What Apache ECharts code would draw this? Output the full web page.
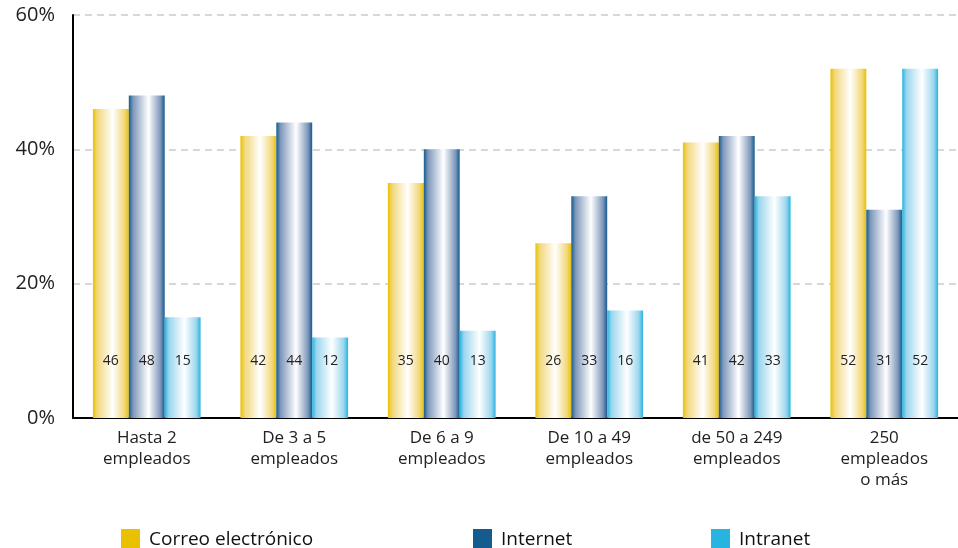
<!DOCTYPE html>
<html>
<head>
<meta charset="utf-8">
<script src="https://cdn.jsdelivr.net/npm/echarts@6/dist/echarts.min.js"></script>
<style>
  html, body { margin: 0; padding: 0; background: #fff; }
  #main { width: 958px; height: 548px; }
</style>
</head>
<body>
<div id="main"></div>
<script>
const categories = [
  "Hasta 2\nempleados",
  "De 3 a 5\nempleados",
  "De 6 a 9\nempleados",
  "De 10 a 49\nempleados",
  "de 50 a 249\nempleados",
  "250\nempleados\no más"
];
const correo = [46, 42, 35, 26, 41, 52];
const internet = [48, 44, 40, 33, 42, 31];
const intranet = [15, 12, 13, 16, 33, 52];
const yTicks = [0, 20, 40, 60];

const chart = echarts.init(document.getElementById("main"));

// horizontal shading: solid at the edges, white a bit right of centre
function shade(color, mid) {
  return new echarts.graphic.LinearGradient(0, 0, 1, 0, [
    { offset: 0, color: color },
    { offset: 0.12, color: mid },
    { offset: 0.55, color: "#ffffff" },
    { offset: 0.88, color: mid },
    { offset: 1, color: color }
  ]);
}

const labelOpt = {
  show: true,
  position: "insideBottom",
  distance: 50,
  color: "#222",
  fontSize: 14,
  fontFamily: "Open Sans"
};

function makeSeries(name, data, color, mid) {
  return {
    name: name,
    type: "bar",
    data: data,
    barGap: "0%",
    barCategoryGap: "27%",
    itemStyle: { color: shade(color, mid) },
    label: labelOpt,
    emphasis: { disabled: true }
  };
}

const colors = {
  "Correo electrónico": "#e9c100",
  "Internet": "#155c8e",
  "Intranet": "#27b4e0"
};

function legendAt(name, left) {
  return {
    data: [{ name: name, icon: "rect", itemStyle: { color: colors[name] } }],
    left: left,
    top: 524,
    itemWidth: 19,
    itemHeight: 22,
    itemGap: 0,
    textStyle: { fontSize: 19, color: "#111", fontFamily: "Open Sans", padding: [0, 0, 0, 4] },
    selectedMode: false
  };
}

chart.setOption({
  animation: false,
  grid: { left: 73, right: 0, top: 15, bottom: 130 },
  legend: [
    legendAt("Correo electrónico", 116),
    legendAt("Internet", 468),
    legendAt("Intranet", 706)
  ],
  xAxis: {
    type: "category",
    data: categories,
    axisLine: { lineStyle: { color: "#000", width: 2 } },
    axisTick: { show: false },
    axisLabel: {
      color: "#222",
      fontSize: 17,
      lineHeight: 21,
      margin: 10,
      fontFamily: "Open Sans",
      interval: 0
    }
  },
  yAxis: {
    type: "value",
    min: yTicks[0],
    max: yTicks[yTicks.length - 1],
    interval: 20,
    axisLine: { show: true, lineStyle: { color: "#000", width: 2 } },
    axisTick: { show: false },
    splitLine: { lineStyle: { color: "#cccccc", type: [7, 5], width: 1.5 } },
    axisLabel: {
      formatter: "{value}%",
      color: "#222",
      fontSize: 20,
      margin: 18,
      fontFamily: "Open Sans"
    }
  },
  series: [
    makeSeries("Correo electrónico", correo, "#e9c100", "#f2d77a"),
    makeSeries("Internet", internet, "#155c8e", "#7f98bb"),
    makeSeries("Intranet", intranet, "#27b4e0", "#9bd6ee")
  ]
});
</script>
</body>
</html>
